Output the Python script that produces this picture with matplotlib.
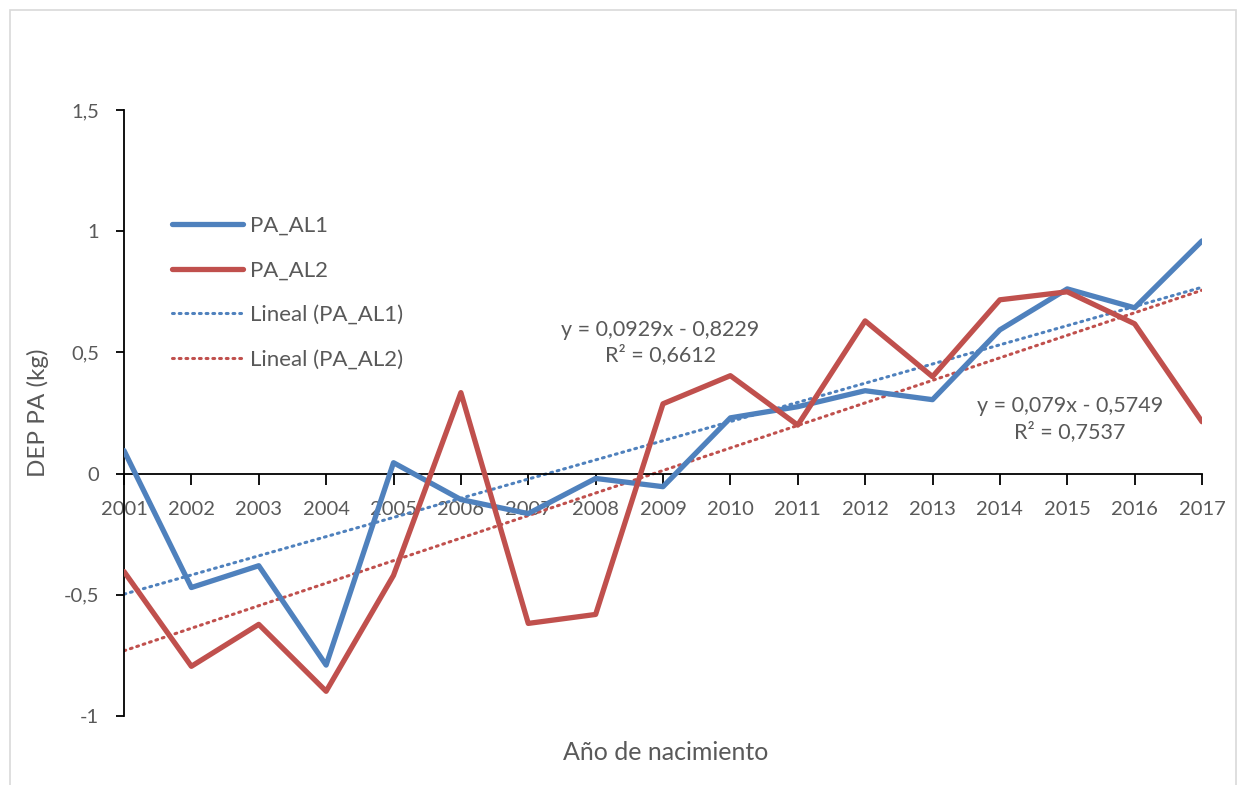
import matplotlib
matplotlib.use("Agg")
import matplotlib.pyplot as plt
from matplotlib.patches import Rectangle
import numpy as np

years = [2001, 2002, 2003, 2004, 2005, 2006, 2007, 2008, 2009,
         2010, 2011, 2012, 2013, 2014, 2015, 2016, 2017]
pa_al1 = [0.095, -0.47, -0.38, -0.79, 0.045, -0.107, -0.165, -0.02, -0.054,
          0.23, 0.276, 0.342, 0.305, 0.593, 0.762, 0.684, 0.96]
pa_al2 = [-0.404, -0.795, -0.622, -0.898, -0.42, 0.334, -0.618, -0.581, 0.288,
          0.404, 0.2, 0.63, 0.4, 0.717, 0.75, 0.618, 0.214]
y_ticks = [-1, -0.5, 0, 0.5, 1, 1.5]
y_tick_labels = ["-1", "-0,5", "0", "0,5", "1", "1,5"]
eq1 = "y = 0,079x - 0,5749\nR² = 0,7537"
eq2 = "y = 0,0929x - 0,8229\nR² = 0,6612"

blue = "#4F81BD"
red = "#C0504D"
gray = "#595959"

plt.rcParams['font.family'] = ['Lato', 'DejaVu Sans']

fig = plt.figure(figsize=(12.39, 7.85), dpi=100)
ax = fig.add_axes([124/1239, 1-716/785, (1202-124)/1239, (716-110)/785])

x = np.array(years)
idx = np.arange(1, len(years) + 1)

ax.plot(x, pa_al1, color=blue, lw=3.8, solid_capstyle='round', solid_joinstyle='round', label="PA_AL1", zorder=3)
ax.plot(x, pa_al2, color=red, lw=3.8, solid_capstyle='round', solid_joinstyle='round', label="PA_AL2", zorder=3)

c1 = np.polyfit(idx, pa_al1, 1)
c2 = np.polyfit(idx, pa_al2, 1)
ax.plot(x, np.polyval(c1, idx), color=blue, lw=2.2, linestyle=(0, (0.6, 1.6)),
        dash_capstyle='round', label="Lineal (PA_AL1)", zorder=2)
ax.plot(x, np.polyval(c2, idx), color=red, lw=2.2, linestyle=(0, (0.6, 1.6)),
        dash_capstyle='round', label="Lineal (PA_AL2)", zorder=2)

ax.set_xlim(2001, 2017)
ax.set_ylim(-1, 1.5)
ax.set_yticks(y_ticks)
ax.set_yticklabels(y_tick_labels)
ax.set_xticks(years)
ax.set_xticklabels([str(y) for y in years])

ax.spines['top'].set_visible(False)
ax.spines['right'].set_visible(False)
ax.spines['bottom'].set_position(('data', 0))
for s in ('left', 'bottom'):
    ax.spines[s].set_linewidth(1.3)
    ax.spines[s].set_color('black')

ax.tick_params(axis='y', direction='out', length=6, width=1.3, colors='black',
               labelcolor=gray, labelsize=14.5, pad=12)
ax.tick_params(axis='x', direction='out', length=8, width=1.3, colors='black',
               labelcolor=gray, labelsize=14.5, pad=12)

fig.text(38/1239, 1-413/785, "DEP PA (kg)", color=gray, fontsize=17.5,
         rotation=90, ha='center', va='center')
fig.text(666/1239, 1-752/785, "Año de nacimiento", color=gray, fontsize=18,
         ha='center', va='center')

ax.text(2015.04, 0.225, eq1, color=gray, fontsize=15.5, ha='center', va='center',
        multialignment='center', linespacing=1.25)
ax.text(2008.96, 0.54, eq2, color=gray, fontsize=15.5, ha='center', va='center',
        multialignment='center', linespacing=1.25)

leg = fig.legend(loc='upper left', bbox_to_anchor=(152/1239, 1-196/785), frameon=False,
                 fontsize=16, handlelength=3.2, handletextpad=0.3, labelspacing=1.1,
                 labelcolor=gray)

fig.patches.append(Rectangle((10/1239, -0.02), (1236-10)/1239, 1.02-10/785,
                             transform=fig.transFigure, fill=False,
                             edgecolor='#D9D9D9', lw=1.2))

fig.savefig("out.png", dpi=100, facecolor='white')
